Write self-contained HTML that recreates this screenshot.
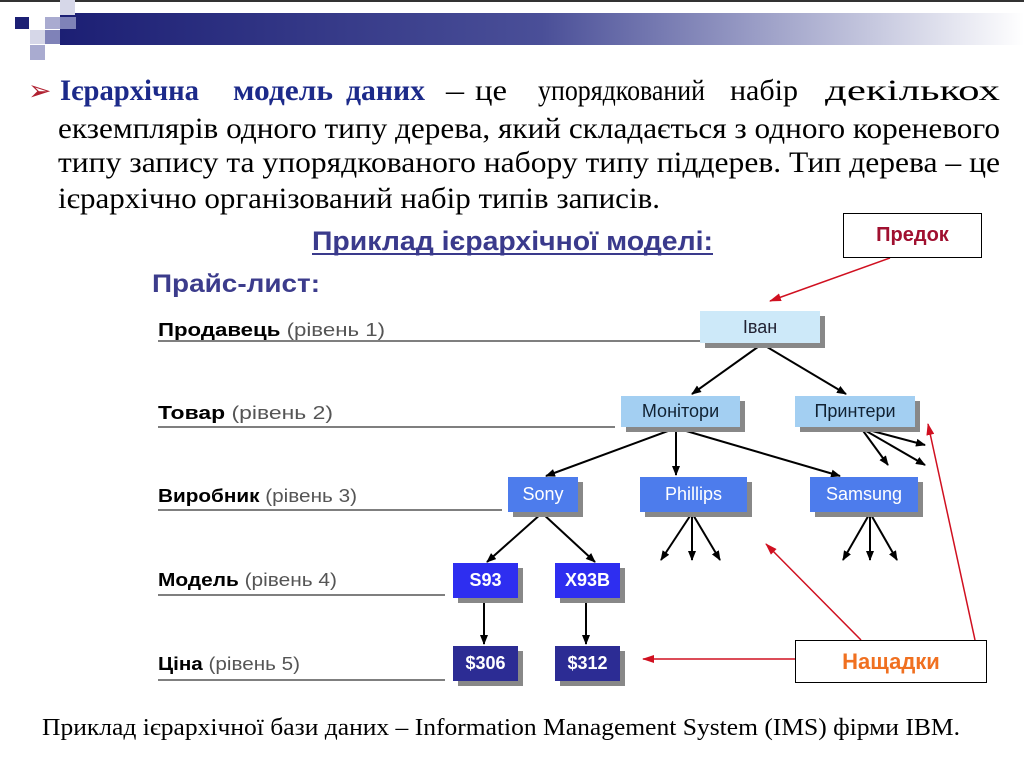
<!DOCTYPE html>
<html><head><meta charset="utf-8"><style>
body{margin:0;width:1024px;height:768px;background:#fff;position:relative;overflow:hidden;font-family:"Liberation Sans",sans-serif}
.a{position:absolute}
.sq{position:absolute}
.n{position:absolute;text-align:center;box-shadow:5px 5px 0 #888;font-size:18px}
</style></head><body>
<div class="a" style="left:0;top:0;width:1024px;height:2px;background:#333"></div>
<div class="a" style="left:60px;top:13px;width:964px;height:32px;background:linear-gradient(90deg,#1c1f74,#4a4f98 50%,#c8cae0 85%,#fff)"></div>
<div class="sq" style="left:15px;top:17px;width:14px;height:12px;background:#1c1f74"></div>
<div class="sq" style="left:45px;top:17px;width:15px;height:12px;background:#a9abd0"></div>
<div class="sq" style="left:60px;top:0;width:15px;height:15px;background:#d6d7e8"></div>
<div class="sq" style="left:60px;top:17px;width:16px;height:12px;background:#7f82b8"></div>
<div class="sq" style="left:30px;top:30px;width:15px;height:14px;background:#d6d7e8"></div>
<div class="sq" style="left:45px;top:30px;width:15px;height:14px;background:#7f82b8"></div>
<div class="sq" style="left:30px;top:45px;width:15px;height:15px;background:#a9abd0"></div>
<svg class="a" style="left:0;top:0" width="1024" height="768">
<defs><marker id="k" markerWidth="10" markerHeight="8" refX="9" refY="4" orient="auto" markerUnits="userSpaceOnUse"><path d="M0,0L10,4L0,8z" fill="#000"/></marker>
<marker id="r" markerWidth="12" markerHeight="8" refX="11" refY="4" orient="auto" markerUnits="userSpaceOnUse"><path d="M0,0L12,4L0,8z" fill="#d01020"/></marker></defs>
<text x="28" y="100" font-family="Liberation Serif" font-size="28" fill="#b02030">➢</text>
<g font-family="Liberation Serif,serif" font-size="30">
<g font-weight="bold" fill="#1c2a8a"><text x="60" y="100" textLength="139" lengthAdjust="spacingAndGlyphs">Ієрархічна</text><text x="233" y="100" textLength="100" lengthAdjust="spacingAndGlyphs">модель</text><text x="346" y="100" textLength="79" lengthAdjust="spacingAndGlyphs">даних</text></g>
<text x="446" y="100" textLength="18" lengthAdjust="spacingAndGlyphs">–</text>
<text x="475" y="100" textLength="32" lengthAdjust="spacingAndGlyphs">це</text>
<text x="538" y="100" textLength="167" lengthAdjust="spacingAndGlyphs">упорядкований</text>
<text x="730" y="100" textLength="68" lengthAdjust="spacingAndGlyphs">набір</text>
<text x="825" y="100" textLength="175" lengthAdjust="spacingAndGlyphs">декількох</text>
<text x="58" y="138" textLength="942" lengthAdjust="spacingAndGlyphs">екземплярів одного типу дерева, який складається з одного кореневого</text>
<text x="58" y="172" textLength="942" lengthAdjust="spacingAndGlyphs">типу запису та упорядкованого набору типу піддерев. Тип дерева – це</text>
<text x="58" y="208" textLength="602" lengthAdjust="spacingAndGlyphs">ієрархічно організований набір типів записів.</text>
<text x="42" y="735" font-size="24" textLength="918" lengthAdjust="spacingAndGlyphs">Приклад ієрархічної бази даних – Information Management System (IMS) фірми IBM.</text>
</g>
<text x="312" y="250" font-family="Liberation Sans" font-weight="bold" font-size="27" fill="#3a3a8c" textLength="401" lengthAdjust="spacingAndGlyphs">Приклад ієрархічної моделі:</text>
<line x1="312" y1="254" x2="713" y2="254" stroke="#3a3a8c" stroke-width="2"/>
<text x="152" y="292" font-family="Liberation Sans" font-weight="bold" font-size="25" fill="#3c3c8c" textLength="168" lengthAdjust="spacingAndGlyphs">Прайс-лист:</text>
<g font-family="Liberation Sans" font-size="18">
<text x="158" y="336" textLength="227" lengthAdjust="spacingAndGlyphs"><tspan font-weight="bold">Продавець</tspan><tspan fill="#555"> (рівень 1)</tspan></text>
<text x="158" y="419" textLength="175" lengthAdjust="spacingAndGlyphs"><tspan font-weight="bold">Товар</tspan><tspan fill="#555"> (рівень 2)</tspan></text>
<text x="158" y="502" textLength="199" lengthAdjust="spacingAndGlyphs"><tspan font-weight="bold">Виробник</tspan><tspan fill="#555"> (рівень 3)</tspan></text>
<text x="158" y="586" textLength="179" lengthAdjust="spacingAndGlyphs"><tspan font-weight="bold">Модель</tspan><tspan fill="#555"> (рівень 4)</tspan></text>
<text x="158" y="670" textLength="142" lengthAdjust="spacingAndGlyphs"><tspan font-weight="bold">Ціна</tspan><tspan fill="#555"> (рівень 5)</tspan></text>
</g>
<g stroke="#333" stroke-width="1.2"><line x1="158" y1="341" x2="700" y2="341"/><line x1="158" y1="427" x2="615" y2="427"/><line x1="158" y1="510" x2="502" y2="510"/><line x1="158" y1="595" x2="445" y2="595"/><line x1="158" y1="680" x2="445" y2="680"/></g>
<g stroke="#000" stroke-width="2" marker-end="url(#k)" fill="none">
<line x1="762" y1="344" x2="692" y2="394"/><line x1="762" y1="344" x2="846" y2="394"/>
<line x1="676" y1="428" x2="546" y2="476"/><line x1="676" y1="428" x2="676" y2="475"/><line x1="676" y1="428" x2="840" y2="476"/>
<line x1="861" y1="428" x2="888" y2="465"/><line x1="861" y1="428" x2="925" y2="445"/><line x1="861" y1="428" x2="925" y2="465"/>
<line x1="542" y1="513" x2="487" y2="562"/><line x1="542" y1="513" x2="595" y2="562"/>
<line x1="692" y1="513" x2="661" y2="560"/><line x1="692" y1="513" x2="692" y2="560"/><line x1="692" y1="513" x2="720" y2="560"/>
<line x1="870" y1="513" x2="843" y2="560"/><line x1="870" y1="513" x2="870" y2="560"/><line x1="870" y1="513" x2="897" y2="560"/>
<line x1="484" y1="599" x2="484" y2="644"/><line x1="586" y1="599" x2="586" y2="644"/></g>
<g stroke="#d01020" stroke-width="1.5" marker-end="url(#r)" fill="none">
<line x1="890" y1="258" x2="770" y2="301"/>
<line x1="795" y1="659" x2="643" y2="659"/>
<line x1="861" y1="640" x2="766" y2="544"/>
<line x1="975" y1="640" x2="928" y2="424"/></g>
</svg>
<div class="a" style="left:843px;top:213px;width:137px;height:43px;border:1.5px solid #000;text-align:center;line-height:43px;font-size:20px;font-weight:bold;color:#a01030">Предок</div>
<div class="n" style="left:700px;top:311px;width:120px;height:32px;line-height:32px;background:#cde9f9;color:#223">Іван</div>
<div class="n" style="left:621px;top:396px;width:119px;height:31px;line-height:31px;background:#a3cff2;color:#123">Монітори</div>
<div class="n" style="left:795px;top:396px;width:120px;height:31px;line-height:31px;background:#a3cff2;color:#123">Принтери</div>
<div class="n" style="left:508px;top:477px;width:70px;height:35px;line-height:35px;background:#4d7cec;color:#fff">Sony</div>
<div class="n" style="left:640px;top:477px;width:107px;height:35px;line-height:35px;background:#4d7cec;color:#fff">Phillips</div>
<div class="n" style="left:810px;top:477px;width:108px;height:35px;line-height:35px;background:#4d7cec;color:#fff">Samsung</div>
<div class="n" style="left:453px;top:563px;width:65px;height:35px;line-height:35px;background:#2e2ef0;color:#fff;font-weight:bold">S93</div>
<div class="n" style="left:555px;top:563px;width:65px;height:35px;line-height:35px;background:#2e2ef0;color:#fff;font-weight:bold">X93B</div>
<div class="n" style="left:453px;top:646px;width:65px;height:35px;line-height:35px;background:#2c2c94;color:#fff;font-weight:bold">$306</div>
<div class="n" style="left:555px;top:646px;width:65px;height:35px;line-height:35px;background:#2c2c94;color:#fff;font-weight:bold">$312</div>
<div class="a" style="left:795px;top:640px;width:190px;height:41px;border:1.5px solid #000;background:#fff;text-align:center;line-height:41px;font-size:22px;font-weight:bold;color:#f07020">Нащадки</div>
</body></html>
